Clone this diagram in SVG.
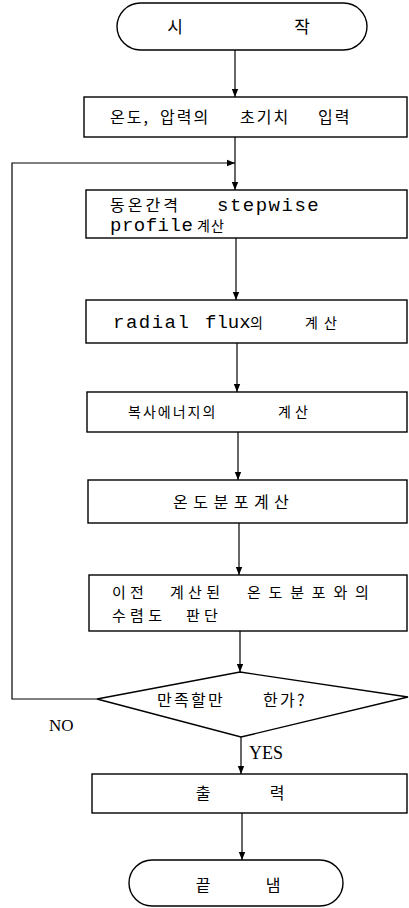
<svg xmlns="http://www.w3.org/2000/svg" width="409" height="908" viewBox="0 0 409 908">
<defs>
<marker id="ah" markerWidth="8" markerHeight="8" refX="8" refY="4" orient="auto" markerUnits="userSpaceOnUse">
<path d="M0,0.8 L8,4 L0,7.2 Z" fill="#000"/>
</marker>
<style>
.shape{fill:#fff;stroke:#000;stroke-width:1.4}
.ln{fill:none;stroke:#000;stroke-width:1.2}
.ko{font-family:"Noto Sans CJK KR","Noto Sans",sans-serif;font-size:16px;fill:#000}
.mo{font-family:"Liberation Mono","DejaVu Sans Mono",monospace;font-size:19px;fill:#000;letter-spacing:1.5px}
.se{font-family:"Liberation Serif","DejaVu Serif",serif;font-size:17px;fill:#000}
</style>
</defs>
<rect width="409" height="908" fill="#fff"/>
<g id="connectors">
<line class="ln" x1="235" y1="50" x2="235" y2="97" marker-end="url(#ah)"/>
<line class="ln" x1="235" y1="137" x2="235" y2="190" marker-end="url(#ah)"/>
<polyline class="ln" points="97,699 12,699 12,163 235,163" marker-end="url(#ah)"/>
<line class="ln" x1="236" y1="238" x2="236" y2="300" marker-end="url(#ah)"/>
<line class="ln" x1="237" y1="343" x2="237" y2="392" marker-end="url(#ah)"/>
<line class="ln" x1="238" y1="432" x2="238" y2="480" marker-end="url(#ah)"/>
<line class="ln" x1="239" y1="523" x2="239" y2="575" marker-end="url(#ah)"/>
<line class="ln" x1="240" y1="631" x2="240" y2="672" marker-end="url(#ah)"/>
<line class="ln" x1="241" y1="737" x2="241" y2="774" marker-end="url(#ah)"/>
<line class="ln" x1="242" y1="813" x2="242" y2="860" marker-end="url(#ah)"/>
<text class="se" x="49" y="731">NO</text>
<text class="se" x="249" y="759" style="font-size:18px">YES</text>
</g>
<g id="start">
<rect class="shape" x="117" y="3" width="250" height="47" rx="23.5"/>
<text class="ko" y="33" text-anchor="middle" style="font-size:17px"><tspan x="175">시</tspan><tspan x="302">작</tspan></text>
</g>
<g id="init">
<rect class="shape" x="84" y="97" width="323" height="40"/>
<text class="ko" y="123" style="letter-spacing:2px"><tspan x="110">온도,</tspan><tspan x="160">압력의</tspan><tspan x="240">초기치</tspan><tspan x="318">입력</tspan></text>
</g>
<g id="stepwise">
<rect class="shape" x="86" y="190" width="321" height="48"/>
<text y="211"><tspan class="ko" x="110" style="letter-spacing:3px">동온간격</tspan><tspan class="mo" x="217">stepwise</tspan></text>
<text y="231"><tspan class="mo" x="110" style="letter-spacing:0.5px">profile</tspan><tspan class="ko" x="197" style="font-size:14px;letter-spacing:1px">계산</tspan></text>
</g>
<g id="radial">
<rect class="shape" x="86" y="300" width="321" height="43"/>
<text y="328"><tspan class="mo" x="113">radial</tspan><tspan class="mo" x="205" style="letter-spacing:0px">flux</tspan><tspan class="ko" x="250" style="font-size:14px">의</tspan><tspan class="ko" x="305" style="font-size:14px;letter-spacing:6px">계산</tspan></text>
</g>
<g id="radiation">
<rect class="shape" x="87" y="392" width="320" height="40"/>
<text class="ko" y="417" style="font-size:14px"><tspan x="128" style="letter-spacing:2px">복사에너지의</tspan><tspan x="278" style="letter-spacing:4px">계산</tspan></text>
</g>
<g id="tempdist">
<rect class="shape" x="88" y="480" width="319" height="43"/>
<text class="ko" x="173" y="508" style="letter-spacing:5.5px">온도분포계산</text>
</g>
<g id="converge">
<rect class="shape" x="89" y="575" width="318" height="56"/>
<text class="ko" y="598" style="font-size:15px;letter-spacing:4.3px"><tspan x="112">이전</tspan><tspan x="170">계산된</tspan><tspan x="247" style="letter-spacing:7.8px">온도분포와의</tspan></text>
<text class="ko" y="621" style="font-size:15px;letter-spacing:4.3px"><tspan x="112">수렴도</tspan><tspan x="186">판단</tspan></text>
</g>
<g id="decision">
<polygon class="shape" points="240,672 408,697 241,737 97,699"/>
<text class="ko" y="706" style="letter-spacing:2.3px"><tspan x="157">만족할만</tspan><tspan x="263">한가?</tspan></text>
</g>
<g id="output">
<rect class="shape" x="92" y="774" width="315" height="39"/>
<text class="ko" y="799" text-anchor="middle"><tspan x="203">출</tspan><tspan x="277">력</tspan></text>
</g>
<g id="end">
<rect class="shape" x="129" y="860" width="214" height="46" rx="23"/>
<text class="ko" y="891" text-anchor="middle"><tspan x="203">끝</tspan><tspan x="273">냄</tspan></text>
</g>
</svg>
